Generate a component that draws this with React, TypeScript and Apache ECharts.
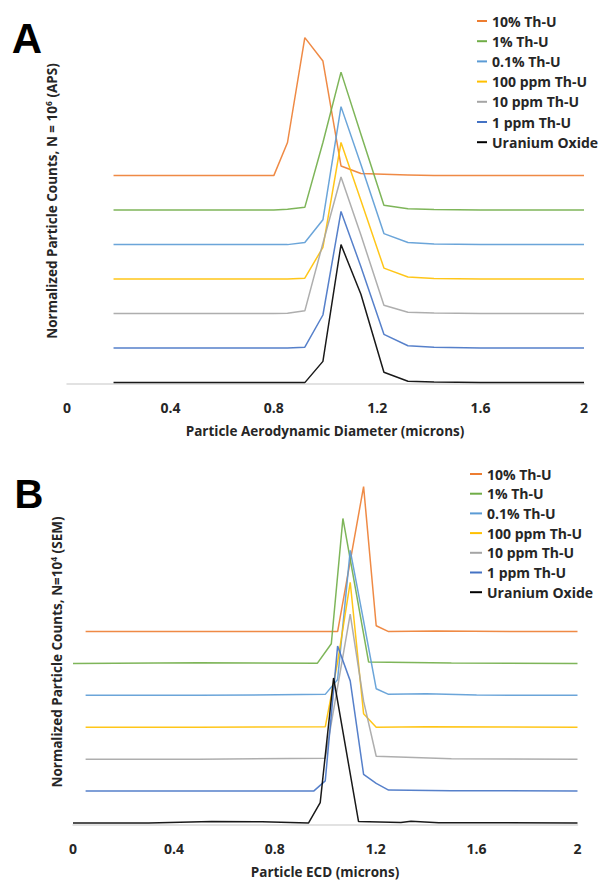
import React, { useEffect, useRef } from "react";
import * as echarts from "echarts";

// ---------- shared ----------
const seriesNames = ["10% Th-U", "1% Th-U", "0.1% Th-U", "100 ppm Th-U", "10 ppm Th-U", "1 ppm Th-U", "Uranium Oxide"];
const seriesColors = ["#ED7D31", "#70AD47", "#5B9BD5", "#FFC000", "#A5A5A5", "#4472C4", "#000000"];

// ---------- panel A (APS) ----------
const apsX = [0.18, 0.5, 0.8, 0.853, 0.92, 0.99, 1.06, 1.137, 1.226, 1.319, 1.42, 1.6, 1.8, 2.0];
const aps10pct = [0, 0, 0, 0.24, 1.0, 0.83, 0.07, 0.015, 0.01, 0.005, 0, 0, 0, 0];
const aps1pct = [0, 0, 0, 0.007, 0.02, 0.49, 1.0, 0.55, 0.036, 0.01, 0.004, 0, 0, 0];
const aps01pct = [0, 0, 0, 0, 0.015, 0.18, 1.0, 0.58, 0.08, 0.015, 0.005, 0, 0, 0];
const aps100ppm = [0, 0, 0, 0, 0.007, 0.23, 0.99, 0.57, 0.08, 0.015, 0.005, 0, 0, 0];
const aps10ppm = [0, 0, 0, 0.003, 0.02, 0.51, 0.99, 0.57, 0.06, 0.01, 0.004, 0, 0, 0];
const aps1ppm = [0, 0, 0, 0, 0.007, 0.24, 0.99, 0.59, 0.1, 0.017, 0.006, 0, 0, 0];
const apsUO = [0, 0, 0, 0, 0, 0.154, 1.0, 0.64, 0.075, 0.01, 0.005, 0, 0, 0];
const apsOffsets = [1.51, 1.26, 1.01, 0.76, 0.51, 0.26, 0.01];

// ---------- panel B (SEM) ----------
const sem10pctX = [0.05, 0.5, 1.049, 1.152, 1.202, 1.251, 1.44, 1.8, 2.0];
const sem10pct = [0, 0, 0, 1.0, 0.04, 0, 0.004, 0, 0];
const sem1pctX = [0, 0.5, 0.969, 1.024, 1.07, 1.172, 1.5, 2.0];
const sem1pct = [0, 0.005, 0.002, 0.136, 1.0, 0.01, 0.004, 0];
const sem01pctX = [0.05, 0.5, 1.0, 1.049, 1.099, 1.148, 1.202, 1.251, 1.4, 1.6, 2.0];
const sem01pct = [0, 0, 0.007, 0.11, 1.0, 0.55, 0.046, 0.007, 0.012, 0.002, 0];
const sem100ppmX = [0.05, 0.5, 1.0, 1.049, 1.099, 1.152, 1.202, 1.4, 2.0];
const sem100ppm = [0, 0, 0.003, 0.45, 1.0, 0.094, 0, 0.004, 0];
const sem10ppmX = [0.05, 0.5, 1.0, 1.099, 1.152, 1.202, 1.5, 2.0];
const sem10ppm = [0, 0, 0.007, 1.0, 0.4, 0.02, 0.003, 0];
const sem1ppmX = [0.05, 0.5, 0.954, 1.0, 1.049, 1.099, 1.152, 1.202, 1.251, 1.5, 2.0];
const sem1ppm = [0, 0, 0, 0.07, 1.0, 0.76, 0.115, 0.053, 0.007, 0.003, 0];
const semUOX = [0, 0.3, 0.55, 0.75, 0.934, 0.98, 1.033, 1.132, 1.3, 1.34, 1.45, 2.0];
const semUO = [0, 0, 0.01, 0.008, 0, 0.14, 1.0, 0.01, 0.004, 0.012, 0.002, 0];
const semOffsets = [1.334, 1.114, 0.894, 0.674, 0.454, 0.234, 0.014];

const apsValues = [aps10pct, aps1pct, aps01pct, aps100ppm, aps10ppm, aps1ppm, apsUO];
const semXs = [sem10pctX, sem1pctX, sem01pctX, sem100ppmX, sem10ppmX, sem1ppmX, semUOX];
const semValues = [sem10pct, sem1pct, sem01pct, sem100ppm, sem10ppm, sem1ppm, semUO];

const FONT = "'Open Sans', 'Noto Sans', sans-serif";
const TXT = "#262626";

export default function App() {
  const ref = useRef<HTMLDivElement>(null);
  useEffect(() => {
    if (!ref.current) return;
    const chart = echarts.init(ref.current, undefined, { renderer: "svg" });

    const series: any[] = [];
    seriesNames.forEach((name, i) => {
      series.push({
        name,
        type: "line",
        xAxisIndex: 0,
        yAxisIndex: 0,
        showSymbol: false,
        symbol: "none",
        lineStyle: { width: 1.5, color: seriesColors[i], opacity: 0.9 },
        itemStyle: { color: seriesColors[i] },
        data: apsX.map((x, k) => [x, apsValues[i][k] + apsOffsets[i]]),
      });
    });
    seriesNames.forEach((name, i) => {
      series.push({
        name,
        type: "line",
        xAxisIndex: 1,
        yAxisIndex: 1,
        showSymbol: false,
        symbol: "none",
        lineStyle: { width: 1.5, color: seriesColors[i], opacity: 0.9 },
        itemStyle: { color: seriesColors[i] },
        data: semXs[i].map((x, k) => [x, semValues[i][k] + semOffsets[i]]),
      });
    });

    const xAxisCommon = {
      type: "value",
      min: 0,
      max: 2,
      interval: 0.4,
      axisLine: { show: true, lineStyle: { color: "#D9D9D9", width: 1.5 } },
      axisTick: { show: false },
      splitLine: { show: false },
      axisLabel: { color: TXT, fontFamily: FONT, fontSize: 14, fontWeight: "bold", margin: 16 },
    };
    const yAxisCommon = { type: "value", min: 0, show: false, splitLine: { show: false } };

    const legendCommon = {
      orient: "vertical",
      icon: "rect",
      itemHeight: 2,
      itemGap: 4.2,
      selectedMode: false,
      data: seriesNames,
      textStyle: { color: TXT, fontFamily: FONT, fontSize: 14, fontWeight: "bold", lineHeight: 16 },
    };

    const titleStyle = { fontFamily: FONT, fontSize: 13.5, fontWeight: "bold", fill: TXT };

    chart.setOption({
      animation: false,
      backgroundColor: "#ffffff",
      grid: [
        { left: 67, width: 517, top: 25.2, height: 358.8 },
        { left: 73, width: 504.5, top: 477, height: 348 },
      ],
      xAxis: [
        { ...xAxisCommon, gridIndex: 0 },
        { ...xAxisCommon, gridIndex: 1 },
      ],
      yAxis: [
        { ...yAxisCommon, gridIndex: 0, max: 2.6 },
        { ...yAxisCommon, gridIndex: 1, max: 2.4 },
      ],
      legend: [
        { ...legendCommon, itemWidth: 10, left: 472, top: 8 },
        { ...legendCommon, itemWidth: 12, left: 465, top: 461, itemGap: 3.7 },
      ],
      graphic: [
        { type: "text", x: 27, y: 38, style: { text: "A", fontFamily: "'Liberation Sans', Arial, sans-serif", fontSize: 42, fontWeight: "bold", fill: "#000", align: "center", verticalAlign: "middle" } },
        { type: "text", x: 29, y: 494, style: { text: "B", fontFamily: "'Liberation Sans', Arial, sans-serif", fontSize: 40, fontWeight: "bold", fill: "#000", align: "center", verticalAlign: "middle" } },
        {
          type: "text", x: 52, y: 201, rotation: Math.PI / 2,
          style: {
            text: "{a|Normalized Particle Counts, N = 10}{s|6}{a| (APS)}",
            align: "center", verticalAlign: "middle", fill: TXT,
            rich: { a: { ...titleStyle, lineHeight: 16 }, s: { fontFamily: FONT, fontSize: 8.5, fontWeight: "bold", fill: TXT, verticalAlign: "top", lineHeight: 16 } },
          },
        },
        {
          type: "text", x: 57, y: 652, rotation: Math.PI / 2,
          style: {
            text: "{a|Normalized Particle Counts, N=10}{s|4}{a| (SEM)}",
            align: "center", verticalAlign: "middle", fill: TXT,
            rich: { a: { ...titleStyle, lineHeight: 16 }, s: { fontFamily: FONT, fontSize: 8.5, fontWeight: "bold", fill: TXT, verticalAlign: "top", lineHeight: 16 } },
          },
        },
        { type: "text", x: 325, y: 431, style: { text: "Particle Aerodynamic Diameter (microns)", ...titleStyle, align: "center", verticalAlign: "middle" } },
        { type: "text", x: 325, y: 872, style: { text: "Particle ECD (microns)", ...titleStyle, align: "center", verticalAlign: "middle" } },
      ],
      series,
    });
    return () => chart.dispose();
  }, []);
  return <div ref={ref} style={{ position: "fixed", left: 0, top: 0, width: 601, height: 881 }} />;
}
